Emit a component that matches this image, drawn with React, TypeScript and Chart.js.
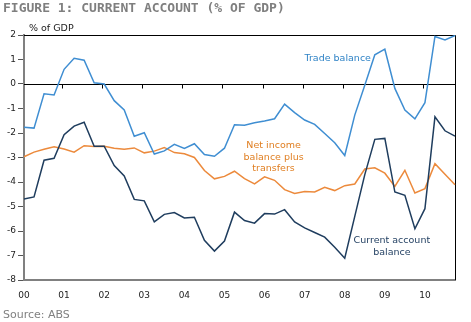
import React, { useEffect, useRef } from 'react';
import { Chart, registerables } from 'chart.js';

Chart.register(...registerables);

// Years shown on the x axis (two-digit labels)
const yearLabels = ['00', '01', '02', '03', '04', '05', '06', '07', '08', '09', '10'];
const quarterNames = ['Mar', 'Jun', 'Sep', 'Dec'];
const quarters = yearLabels.flatMap((yr) => quarterNames.map((q) => `${q}-${yr}`));

// Per cent of GDP, quarterly, 2000 Q1 – 2010 Q4
const tradeBalance = [
  -1.77, -1.8, -0.4, -0.45, 0.6, 1.05, 0.97, 0.05, 0.0, -0.68, -1.06,
  -2.13, -1.99, -2.86, -2.73, -2.46, -2.63, -2.44, -2.88, -2.95, -2.62, -1.66,
  -1.68, -1.58, -1.51, -1.42, -0.82, -1.17, -1.47, -1.65, -2.02, -2.4, -2.92,
  -1.27, -0.05, 1.19, 1.42, -0.18, -1.06, -1.42, -0.76, 1.94, 1.8, 1.98,
];
const netIncomeTransfers = [
  -2.97, -2.78, -2.66, -2.56, -2.65, -2.78, -2.52, -2.55, -2.54, -2.62, -2.66,
  -2.61, -2.81, -2.74, -2.59, -2.8, -2.85, -3.0, -3.53, -3.87, -3.77, -3.56,
  -3.86, -4.08, -3.79, -3.93, -4.31, -4.47, -4.39, -4.41, -4.22, -4.35, -4.15,
  -4.08, -3.47, -3.42, -3.64, -4.18, -3.52, -4.45, -4.27, -3.25, -3.68, -4.11,
];
const currentAccount = [
  -4.69, -4.61, -3.11, -3.03, -2.07, -1.72, -1.56, -2.54, -2.54, -3.33, -3.75,
  -4.71, -4.77, -5.63, -5.32, -5.25, -5.47, -5.44, -6.38, -6.82, -6.41, -5.23,
  -5.57, -5.68, -5.29, -5.31, -5.13, -5.63, -5.87, -6.06, -6.25, -6.66, -7.11,
  -5.4, -3.7, -2.26, -2.22, -4.41, -4.54, -5.91, -5.09, -1.34, -1.91, -2.13,
];

const Y_MIN = -8;
const Y_MAX = 2;

const TRADE_COLOR = '#3f8ed2';
const INCOME_COLOR = '#ec8a3c';
const CA_COLOR = '#1f3d5e';

// Series labels placed in data coordinates (quarter index, % of GDP)
const seriesLabels = [
  { lines: ['Trade balance'], x: 31.3, y: 1.02, color: '#2f83c6' },
  { lines: ['Net income', 'balance plus', 'transfers'], x: 24.9, y: -2.53, color: '#e07f22' },
  { lines: ['Current account', 'balance'], x: 36.7, y: -6.4, color: '#1d3b5e' },
];

const framePlugin = {
  id: 'frame',
  beforeDatasetsDraw(chart: any) {
    const { ctx, chartArea: a, scales } = chart;
    const x = scales.x;
    const y = scales.y;
    ctx.save();
    ctx.strokeStyle = '#000';
    ctx.lineWidth = 1;
    ctx.beginPath();
    ctx.moveTo(a.left, Math.round(a.top) + 0.5);
    ctx.lineTo(Math.round(a.right) + 0.5, Math.round(a.top) + 0.5);
    ctx.lineTo(Math.round(a.right) + 0.5, a.bottom);
    ctx.stroke();
    const z = Math.round(y.getPixelForValue(0)) + 0.5;
    ctx.beginPath();
    ctx.moveTo(a.left, z);
    ctx.lineTo(a.right, z);
    for (let i = 4; i < quarters.length; i += 4) {
      const px = Math.round(x.getPixelForValue(i)) - 1.5;
      ctx.moveTo(px, z);
      ctx.lineTo(px, z + 4);
    }
    ctx.stroke();
    ctx.restore();
  },
  afterDatasetsDraw(chart: any) {
    const { ctx, scales } = chart;
    ctx.save();
    ctx.font = '9.5px "DejaVu Sans", Verdana, sans-serif';
    ctx.textAlign = 'center';
    ctx.textBaseline = 'middle';
    for (const lbl of seriesLabels) {
      const cx = scales.x.getPixelForValue(lbl.x);
      const cy = scales.y.getPixelForValue(lbl.y);
      ctx.fillStyle = lbl.color;
      lbl.lines.forEach((t, i) => ctx.fillText(t, cx, cy + i * 11.3));
    }
    ctx.restore();
  },
};

function CurrentAccountChart() {
  const ref = useRef<HTMLCanvasElement>(null);
  useEffect(() => {
    if (!ref.current) return;
    const chart = new Chart(ref.current, {
      type: 'line',
      data: {
        labels: quarters,
        datasets: [
          { label: 'Current account balance', data: currentAccount, borderColor: CA_COLOR, borderWidth: 1.5, pointRadius: 0, tension: 0 },
          { label: 'Trade balance', data: tradeBalance, borderColor: TRADE_COLOR, borderWidth: 1.5, pointRadius: 0, tension: 0 },
          { label: 'Net income balance plus transfers', data: netIncomeTransfers, borderColor: INCOME_COLOR, borderWidth: 1.5, pointRadius: 0, tension: 0 },
        ],
      },
      options: {
        animation: false,
        responsive: false,
        layout: { padding: { top: 35, right: 16, bottom: 12, left: 0 } },
        plugins: { legend: { display: false }, tooltip: { enabled: false }, title: { display: false } },
        scales: {
          x: {
            type: 'category',
            offset: false,
            grid: { display: false, drawTicks: false },
            border: { display: true, color: '#808080', width: 2 },
            ticks: {
              autoSkip: false,
              maxRotation: 0,
              padding: 10,
              color: '#222',
              font: { family: '"DejaVu Sans", Verdana, sans-serif', size: 9 },
              callback: (_v: any, i: number) => (i % 4 === 0 ? yearLabels[i / 4] : ''),
            },
            afterFit: (s: any) => { s.height = 30; },
          },
          y: {
            min: Y_MIN,
            max: Y_MAX,
            grid: { display: true, drawOnChartArea: false, drawTicks: true, tickLength: 6, color: '#555' },
            border: { display: true, color: '#808080', width: 2 },
            ticks: {
              stepSize: 1,
              padding: 2,
              color: '#222',
              font: { family: '"DejaVu Sans", Verdana, sans-serif', size: 9 },
            },
            afterFit: (s: any) => { s.width = 24; },
          },
        },
      },
      plugins: [framePlugin],
    });
    return () => chart.destroy();
  }, []);
  return <canvas ref={ref} width={471} height={322} style={{ position: 'absolute', left: 0, top: 0, width: 471, height: 322 }} />;
}

export default function App() {
  return (
    <div style={{ position: 'fixed', left: 0, top: 0, width: 471, height: 322, background: '#fff', overflow: 'hidden' }}>
      <CurrentAccountChart />
      <div style={{ position: 'absolute', left: 3, top: 0, font: 'bold 13px "DejaVu Sans Mono", monospace', lineHeight: '15px', color: '#7f7f7f', whiteSpace: 'nowrap' }}>
        FIGURE 1: CURRENT ACCOUNT (% OF GDP)
      </div>
      <div style={{ position: 'absolute', left: 29, top: 22, font: '9.5px "DejaVu Sans", Verdana, sans-serif', lineHeight: '11px', color: '#222', whiteSpace: 'nowrap' }}>
        % of GDP
      </div>
      <div style={{ position: 'absolute', left: 3, top: 308, font: '11px "DejaVu Sans", Verdana, sans-serif', lineHeight: '13px', color: '#808080', whiteSpace: 'nowrap' }}>
        Source: ABS
      </div>
    </div>
  );
}
